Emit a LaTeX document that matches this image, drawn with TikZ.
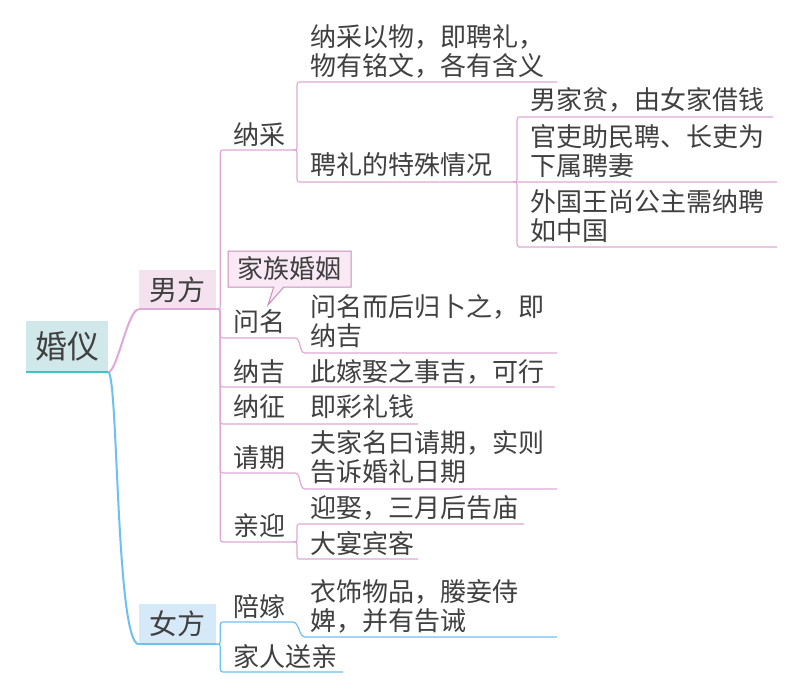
\documentclass[tikz,border=0pt]{standalone}
\usepackage{fontspec}
\setmainfont{Noto Sans CJK SC}
\usetikzlibrary{calc,shapes.callouts}
\definecolor{txt}{HTML}{404040}
\definecolor{pinkln}{HTML}{E0A8D8}
\definecolor{blueln}{HTML}{6EC0F0}
\definecolor{tealln}{HTML}{40C4BE}
\definecolor{rootfill}{HTML}{D0E8EA}
\definecolor{manfill}{HTML}{F4E2EF}
\definecolor{womanfill}{HTML}{D6E9F8}
\definecolor{calfill}{HTML}{F8E9F4}
\definecolor{calborder}{HTML}{C890BC}
\begin{document}
\begin{tikzpicture}[x=1pt,y=-1pt,
 leaf/.style={font=\fontsize{26}{29}\selectfont, text=txt, inner sep=0pt, anchor=west, align=left},
 pk/.style={draw=pinkln, line width=1.2pt},
 bl/.style={draw=blueln, line width=1.2pt},
 brace/.style={to path={let \p1=(\tikztostart),\p2=(\tikztotarget),\n1={sign(\y2-\y1)} in .. controls (\x1+4pt,\y1) .. (\x1+4pt,{\y1+(\n1)*5pt}) -- (\x1+4pt,{\y2-(\n1)*8pt}) .. controls (\x1+4pt,\y2) .. (\tikztotarget)}},
 sbr/.style={to path={.. controls ($(\tikztostart)+(6,0)$) and ($(\tikztotarget)+(-6,0)$) .. (\tikztotarget)}},
 main/.style={inner sep=0pt, text=txt, font=\fontsize{28}{32}\selectfont, minimum width=77pt, minimum height=39pt},
]
\fill[white] (0,0) rectangle (800,693);
\useasboundingbox (0,0) rectangle (800,693);

% root and main topics
\node[fill=rootfill, inner sep=0pt, text=txt, font=\fontsize{32}{36}\selectfont, minimum width=82pt, minimum height=51pt] (root) at (67,346.5) {婚仪};
\node[main, fill=manfill] (man) at (177.5,289.5) {男方};
\node[main, fill=womanfill, minimum height=40pt] (woman) at (177.5,624) {女方};

% coordinates of underlines
\coordinate (naicai-a) at (225,150); \coordinate (naicai-b) at (293,150);
\coordinate (wenming-a) at (225,338); \coordinate (wenming-b) at (295,338);
\coordinate (naji-a) at (225,387); \coordinate (naji-b) at (295,387);
\coordinate (nazheng-a) at (225,424); \coordinate (nazheng-b) at (295,424);
\coordinate (qingqi-a) at (225,473); \coordinate (qingqi-b) at (295,473);
\coordinate (qinying-a) at (225,542); \coordinate (qinying-b) at (293,542);
\coordinate (c1-a) at (300,82); \coordinate (c1-b) at (557,82);
\coordinate (c2-a) at (300,182); \coordinate (c2-b) at (513,182);
\coordinate (d1-a) at (521,117); \coordinate (d1-b) at (773,117);
\coordinate (d2-b) at (777,182);
\coordinate (d3-a) at (521,247); \coordinate (d3-b) at (777,247);
\coordinate (wm-a) at (305,353); \coordinate (wm-b) at (557,353);
\coordinate (nj-b) at (555,387);
\coordinate (nz-b) at (418,424);
\coordinate (qq-a) at (305,489); \coordinate (qq-b) at (557,489);
\coordinate (qy1-a) at (300,524); \coordinate (qy1-b) at (524,524);
\coordinate (qy2-a) at (300,559); \coordinate (qy2-b) at (418,559);
\coordinate (pj-a) at (225,622); \coordinate (pj-b) at (293,622);
\coordinate (pjc-a) at (305,637); \coordinate (pjc-b) at (557,637);
\coordinate (sq-a) at (225,672); \coordinate (sq-b) at (343,672);

% root connectors
\draw[tealln, line width=1.5pt] (root.south west) -- (root.south east);
\draw[pinkln, line width=1.5pt] (man.south west) -- (man.south east);
\draw[blueln, line width=1.5pt] (woman.south west) -- (woman.south east);
\draw[pinkln, line width=2pt] (root.south east) .. controls +(9,0) and +(-11,0) .. (man.south west);
\draw[blueln, line width=2pt] (root.south east) .. controls +(10,0) and +(-23,0) .. (woman.south west);

% male side
\draw[pk] (man.south east) to[brace] (naicai-a) -- (naicai-b);
\draw[pk] (naicai-b) to[brace] (c1-a) -- (c1-b);
\draw[pk] (naicai-b) to[brace] (c2-a) -- (c2-b) -- (d2-b);
\draw[pk] (c2-b) to[brace] (d1-a) -- (d1-b);
\draw[pk] (c2-b) to[brace] (d3-a) -- (d3-b);
\draw[pk] (man.south east) to[brace] (wenming-a) -- (wenming-b) to[sbr] (wm-a) -- (wm-b);
\draw[pk] (man.south east) to[brace] (naji-a) -- (naji-b) -- (nj-b);
\draw[pk] (man.south east) to[brace] (nazheng-a) -- (nazheng-b) -- (nz-b);
\draw[pk] (man.south east) to[brace] (qingqi-a) -- (qingqi-b) to[sbr] (qq-a) -- (qq-b);
\draw[pk] (man.south east) to[brace] (qinying-a) -- (qinying-b);
\draw[pk] (qinying-b) to[brace] (qy1-a) -- (qy1-b);
\draw[pk] (qinying-b) to[brace] (qy2-a) -- (qy2-b);

% female side
\draw[bl] (woman.south east) to[brace] (pj-a) -- (pj-b) to[sbr] (pjc-a) -- (pjc-b);
\draw[bl] (woman.south east) to[brace] (sq-a) -- (sq-b);

% texts
\node[leaf] (t-naicai) at (233,135) {纳采};
\node[leaf] (t-c1) at (310,51) {纳采以物，即聘礼，\\物有铭文，各有含义};
\node[leaf] (t-c2) at (310,165) {聘礼的特殊情况};
\node[leaf] (t-d1) at (530,100) {男家贫，由女家借钱};
\node[leaf] (t-d2) at (530,151) {官吏助民聘、长吏为\\下属聘妻};
\node[leaf] (t-d3) at (530,216.5) {外国王尚公主需纳聘\\如中国};
\node[leaf] (t-wenming) at (233,322) {问名};
\node[leaf] (t-wm) at (310,321.5) {问名而后归卜之，即\\纳吉};
\node[leaf] (t-naji) at (233,372) {纳吉};
\node[leaf] (t-nj) at (310,372) {此嫁娶之事吉，可行};
\node[leaf] (t-nazheng) at (233,407) {纳征};
\node[leaf] (t-nz) at (310,407) {即彩礼钱};
\node[leaf] (t-qingqi) at (233,458) {请期};
\node[leaf] (t-qq) at (310,457.5) {夫家名曰请期，实则\\告诉婚礼日期};
\node[leaf] (t-qinying) at (233,526) {亲迎};
\node[leaf] (t-qy1) at (310,508) {迎娶，三月后告庙};
\node[leaf] (t-qy2) at (310,543) {大宴宾客};
\node[leaf] (t-peijia) at (233,607) {陪嫁};
\node[leaf] (t-pj) at (310,606.5) {衣饰物品，媵妾侍\\婢，并有告诫};
\node[leaf] (t-songqin) at (233,657) {家人送亲};

% callout
\node[rectangle callout, callout absolute pointer={(268,305)}, callout pointer width=10pt,
  draw=calborder, fill=calfill, line width=1pt, minimum width=123pt, minimum height=36pt,
  inner sep=0pt, text=txt, font=\fontsize{26}{29}\selectfont] (jiazu) at (289.5,269) {家族婚姻};
\end{tikzpicture}
\end{document}
